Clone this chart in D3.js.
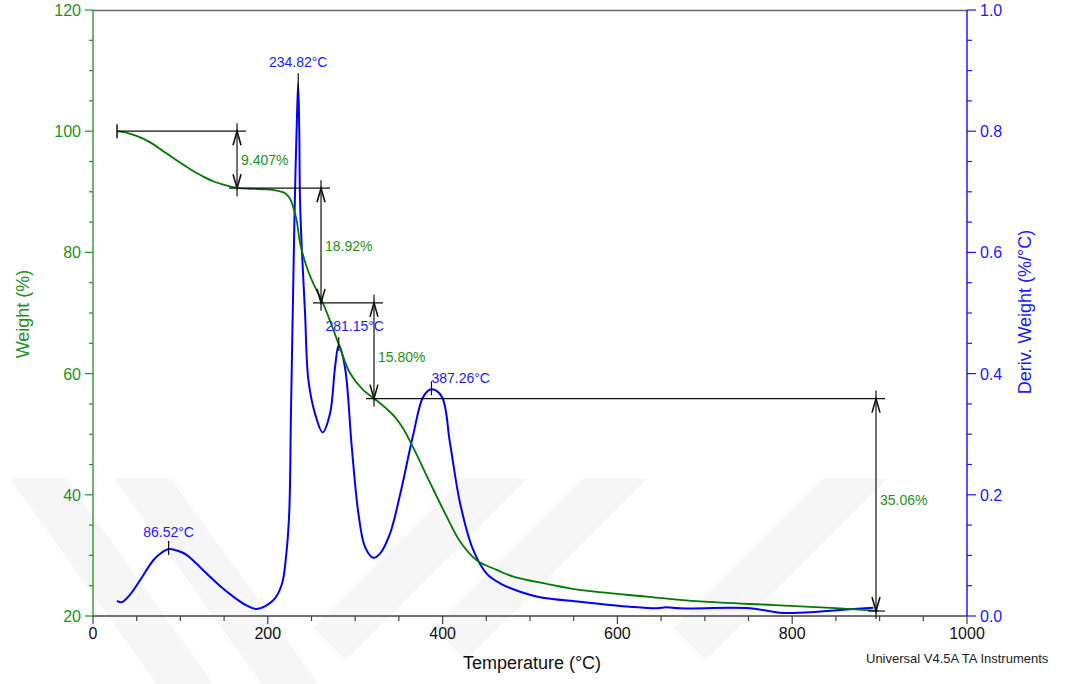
<!DOCTYPE html>
<html>
<head>
  <meta charset="utf-8">
  <script src="https://d3js.org/d3.v7.min.js"></script>
  <style>
    body { margin: 0; background: #fff; }
    text { font-family: "Liberation Sans", Arial, sans-serif; }
  </style>
</head>
<body>
<script>
// TGA weight curve (Temperature °C, Weight %)
var weightTemp = [27.5, 40, 52, 65, 84, 103, 115, 125, 138, 150, 165, 180, 199, 210, 218, 222, 226, 229, 233, 237, 244.5, 252, 261.7, 271, 280.7, 294, 309, 321.5, 335, 345, 355, 366, 385.6, 404.7, 420, 439, 462, 481, 519, 557, 633, 694.5, 780, 850, 898];
var weightPct  = [100, 99.7, 99.1, 98.2, 96.35, 94.5, 93.4, 92.6, 91.7, 91.15, 90.65, 90.5, 90.4, 90.2, 89.9, 89.5, 88.7, 87.5, 85.3, 81.5, 77.6, 74.9, 72.1, 68.8, 65.0, 60.1, 57.3, 55.9, 54.3, 52.9, 50.9, 47.9, 42.0, 36.4, 32.3, 29.2, 27.6, 26.5, 25.3, 24.3, 23.2, 22.4, 21.8, 21.3, 20.85];

// DTG curve (Temperature °C, Deriv. weight %/°C)
var derivTemp = [27.5, 32.8, 42.3, 53.8, 69, 78, 86.5, 96, 107, 118, 130, 145, 160.5, 175, 187.3, 206.3, 216, 221, 224.5, 226.5, 229.2, 231, 233.5, 234.8, 236, 236.8, 238.8, 242.6, 246.4, 254, 262.8, 271.2, 276.9, 281.2, 288.3, 296, 303.6, 311.2, 320.7, 328.4, 339.8, 351.3, 366.5, 378, 387.3, 399, 408.5, 420, 435, 450.4, 465.7, 488.6, 511.4, 557, 614.4, 645, 656, 671.6, 751.7, 786, 809, 854.7, 892.8];
var derivVal  = [0.025, 0.0226, 0.035, 0.059, 0.092, 0.104, 0.1106, 0.108, 0.101, 0.087, 0.070, 0.050, 0.032, 0.018, 0.0116, 0.026, 0.052, 0.10, 0.17, 0.335, 0.554, 0.69, 0.83, 0.879, 0.80, 0.69, 0.61, 0.5, 0.39, 0.334, 0.303, 0.334, 0.41, 0.447, 0.41, 0.28, 0.17, 0.114, 0.096, 0.103, 0.136, 0.2, 0.3, 0.362, 0.374, 0.362, 0.285, 0.186, 0.109, 0.07, 0.054, 0.040, 0.031, 0.0236, 0.0153, 0.0127, 0.0143, 0.0127, 0.0127, 0.0055, 0.0055, 0.01, 0.0137];

// step analysis
var stepStart = 27.5;
var stepTemps = [164.8, 260.9, 321.5, 895.9];
var stepLevels = [100, 90.593, 71.673, 55.873, 20.813];
var stepLabels = ["9.407%", "18.92%", "15.80%", "35.06%"];

// peak labels
var peakTemps = [86.52, 234.82, 281.15, 387.26];
var peakVals = [0.1106, 0.879, 0.447, 0.374];
var peakLabels = ["86.52°C", "234.82°C", "281.15°C", "387.26°C"];

var xTicks = [0, 200, 400, 600, 800, 1000];
var yTicks = [20, 40, 60, 80, 100, 120];
var y2Ticks = [0, 0.2, 0.4, 0.6, 0.8, 1.0];

var W = 1077, H = 684;
var mLeft = 93, mRight = 967, mTop = 10, mBottom = 616;
var green = "#1e921e", greenLine = "#007a00", blue = "#1a1aff", blueLine = "#0000ff";

var svg = d3.select("body").append("svg").attr("width", W).attr("height", H);

// faint watermark chevrons
svg.append("clipPath").attr("id", "wmclip").append("rect")
    .attr("x", 0).attr("y", 478).attr("width", W).attr("height", H - 478);
var wm = svg.append("g").attr("clip-path", "url(#wmclip)");
[[10, 480, 214, 684], [115, 480, 319, 684], [330, 684, 534, 480], [450, 684, 654, 480], [690, 684, 894, 480]].forEach(function (s) {
  wm.append("line").attr("x1", s[0]).attr("y1", s[1] - 40).attr("x2", s[2]).attr("y2", s[3] + (s[3] > s[1] ? 40 : -40))
    .attr("stroke", "#f6f6f6").attr("stroke-width", 46);
});

var x = d3.scaleLinear().domain([0, 1000]).range([mLeft, mRight]);
var y = d3.scaleLinear().domain([20, 120]).range([mBottom, mTop]);
var y2 = d3.scaleLinear().domain([0, 1]).range([mBottom, mTop]);

// top border
svg.append("line").attr("x1", mLeft).attr("x2", mRight).attr("y1", mTop + 0.5).attr("y2", mTop + 0.5)
    .attr("stroke", "#666").attr("stroke-width", 1.3);

// bottom axis
var xAxis = svg.append("g").attr("transform", "translate(0," + mBottom + ")");
xAxis.append("line").attr("x1", mLeft).attr("x2", mRight).attr("stroke", "#444").attr("stroke-width", 1.3);
d3.range(0, 1001, 50).forEach(function (t) {
  var major = t % 200 === 0;
  xAxis.append("line").attr("x1", x(t)).attr("x2", x(t)).attr("y1", 0).attr("y2", major ? 8 : 5)
      .attr("stroke", "#444").attr("stroke-width", 1.2);
});
xAxis.selectAll("text.tick").data(xTicks).enter().append("text")
    .attr("x", function (d) { return x(d); }).attr("y", 23)
    .attr("text-anchor", "middle").attr("font-size", 16).attr("fill", "#111")
    .text(function (d) { return d; });

// left axis
var yAxis = svg.append("g");
yAxis.append("line").attr("x1", mLeft).attr("x2", mLeft).attr("y1", mTop).attr("y2", mBottom)
    .attr("stroke", green).attr("stroke-width", 1.3);
d3.range(20, 121, 5).forEach(function (v) {
  var major = v % 20 === 0;
  yAxis.append("line").attr("x1", mLeft - (major ? 8 : 4)).attr("x2", mLeft).attr("y1", y(v)).attr("y2", y(v))
      .attr("stroke", green).attr("stroke-width", 1.2);
});
yAxis.selectAll("text.tick").data(yTicks).enter().append("text")
    .attr("x", mLeft - 12).attr("y", function (d) { return y(d) + 6; })
    .attr("text-anchor", "end").attr("font-size", 16).attr("fill", green)
    .text(function (d) { return d; });

// right axis
var y2Axis = svg.append("g");
y2Axis.append("line").attr("x1", mRight).attr("x2", mRight).attr("y1", mTop).attr("y2", mBottom)
    .attr("stroke", blue).attr("stroke-width", 1.5);
d3.range(0, 21).forEach(function (i) {
  var v = i * 0.05, major = i % 4 === 0;
  y2Axis.append("line").attr("x1", mRight).attr("x2", mRight + (major ? 9 : 5)).attr("y1", y2(v)).attr("y2", y2(v))
      .attr("stroke", blue).attr("stroke-width", 1.2);
});
y2Axis.selectAll("text.tick").data(y2Ticks).enter().append("text")
    .attr("x", mRight + 13).attr("y", function (d) { return y2(d) + 6; })
    .attr("font-size", 16).attr("fill", blue)
    .text(function (d) { return d.toFixed(1); });

// axis titles
svg.append("text").attr("x", 532).attr("y", 669).attr("text-anchor", "middle")
    .attr("font-size", 18).attr("fill", "#111").text("Temperature (°C)");
svg.append("text").attr("transform", "translate(29,314) rotate(-90)").attr("text-anchor", "middle")
    .attr("font-size", 18).attr("fill", green).text("Weight (%)");
svg.append("text").attr("transform", "translate(1031,312) rotate(-90)").attr("text-anchor", "middle")
    .attr("font-size", 18).attr("fill", blue).text("Deriv. Weight (%/°C)");
svg.append("text").attr("x", 866).attr("y", 663).attr("font-size", 13).attr("fill", "#222")
    .text("Universal V4.5A TA Instruments");

// curves
var wLine = d3.line().x(function (d) { return x(d[0]); }).y(function (d) { return y(d[1]); }).curve(d3.curveCatmullRom.alpha(0.5));
var dLine = d3.line().x(function (d) { return x(d[0]); }).y(function (d) { return y2(d[1]); }).curve(d3.curveCatmullRom.alpha(0.5));

svg.append("path").datum(d3.zip(derivTemp, derivVal)).attr("d", dLine)
    .attr("fill", "none").attr("stroke", blueLine).attr("stroke-width", 2);
svg.append("path").datum(d3.zip(weightTemp, weightPct)).attr("d", wLine)
    .attr("fill", "none").attr("stroke", greenLine).attr("stroke-width", 1.8);

// step annotations
var ann = svg.append("g").attr("stroke", "#111").attr("fill", "none").attr("stroke-width", 1.2);
stepLevels.forEach(function (lv, i) {
  var x1 = i === 0 ? x(stepStart) : x(stepTemps[i - 1]) - 8;
  var x2 = x(stepTemps[Math.min(i, 3)]) + 9;
  ann.append("line").attr("x1", x1).attr("x2", x2).attr("y1", y(lv)).attr("y2", y(lv));
});
ann.append("line").attr("x1", x(stepStart)).attr("x2", x(stepStart))
    .attr("y1", y(stepLevels[0]) - 7).attr("y2", y(stepLevels[0]) + 7).attr("stroke-width", 1.5);
stepTemps.forEach(function (t, i) {
  var px = x(t), y1 = y(stepLevels[i]), y2p = y(stepLevels[i + 1]);
  ann.append("line").attr("x1", px).attr("x2", px).attr("y1", y1 - 8).attr("y2", y2p + 8);
  ann.append("path").attr("d", "M" + (px - 4) + "," + (y1 + 14) + "L" + px + "," + y1 + "L" + (px + 4) + "," + (y1 + 14))
      .attr("stroke-width", 1.6);
  ann.append("path").attr("d", "M" + (px - 4) + "," + (y2p - 14) + "L" + px + "," + y2p + "L" + (px + 4) + "," + (y2p - 14))
      .attr("stroke-width", 1.6);
  svg.append("text").attr("x", px + 4).attr("y", (i === 3 ? y(stepLevels[i]) + 106 : (y1 + y2p) / 2 + 5 + (i === 2 ? 6 : 0)))
      .attr("font-size", 14).attr("fill", green).text(stepLabels[i]);
});

// peak markers
var labelDx = [0, 0, 16, 0], labelAnchor = ["middle", "middle", "middle", "start"], labelDy = [-12, -16, -14, -6];
peakTemps.forEach(function (t, i) {
  var px = x(t), py = y2(peakVals[i]);
  ann.append("line").attr("x1", px).attr("x2", px).attr("y1", py - (i === 1 ? 10 : 8)).attr("y2", py + (i === 1 ? 10 : 6));
  svg.append("text").attr("x", px + labelDx[i]).attr("y", py + labelDy[i])
      .attr("text-anchor", labelAnchor[i]).attr("font-size", 14).attr("fill", blue).text(peakLabels[i]);
});
</script>
</body>
</html>
